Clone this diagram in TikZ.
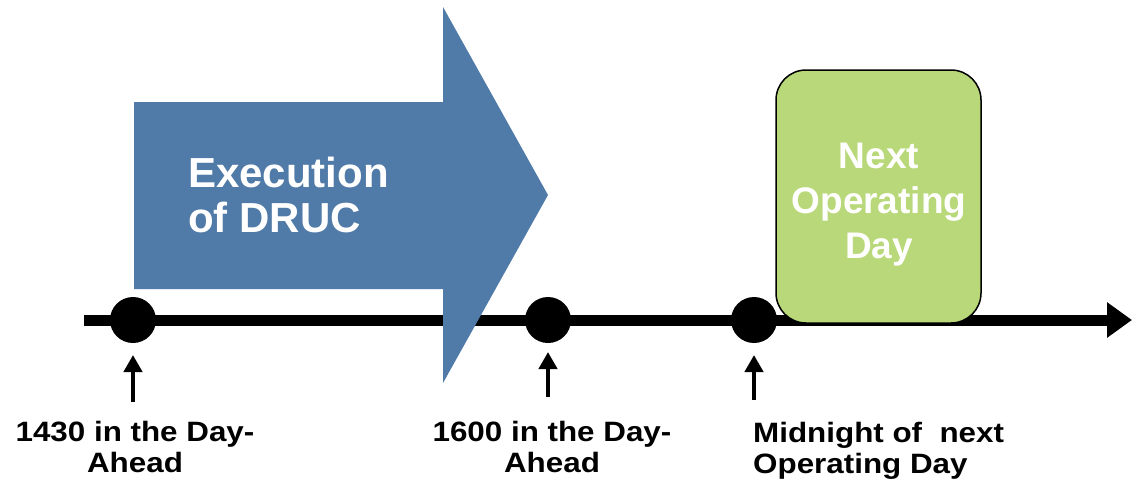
\documentclass[tikz,border=0pt]{standalone}
\usepackage{fontspec}
\setmainfont{Liberation Sans}
\newfontfamily\widesans[FakeStretch=1.12]{Liberation Sans}
\usetikzlibrary{arrows.meta}
\definecolor{drucblue}{RGB}{80,122,167}
\definecolor{daygreen}{RGB}{185,216,122}
\tikzset{
  timeline/.style={line width=11pt, -{Triangle[length=25pt,width=34pt]}},
  event/.style={circle, fill=black, minimum size=46pt, inner sep=0pt},
  pointer/.style={line width=4.5pt, -{Triangle[length=17pt,width=18pt]}},
  bigwhite/.style={text=white, inner sep=0pt, anchor=base west, align=left,
    font=\bfseries\fontsize{42}{45}\selectfont},
  boxwhite/.style={text=white, inner sep=0pt, anchor=base, align=center,
    font=\bfseries\fontsize{37}{45}\selectfont},
  caption/.style={inner sep=0pt, anchor=base,
    font=\widesans\bfseries\fontsize{28}{31}\selectfont},
  dayblock/.style={draw=black, line width=1.5pt, fill=daygreen,
    rounded corners=30pt}
}
\begin{document}
\begin{tikzpicture}[x=1pt, y=-1pt]
  \useasboundingbox (0,0) rectangle (1132,485);

  % time axis
  \coordinate (axisstart) at (84,320);
  \coordinate (axisend) at (1132,320);
  \draw[timeline] (axisstart) -- (axisend);

  % events on the axis
  \node[event] (e1) at (133,320) {};
  \node[event] (e2) at (548,320) {};
  \node[event] (e3) at (754,320) {};

  % DRUC execution window (text anchored at the baseline of its last line)
  \fill[drucblue] (134,102) -- (443,102) -- (443,7) -- (548,195)
    -- (443,383) -- (443,289) -- (134,289) -- cycle;
  \node[bigwhite] (druc) at (188,232) {Execution\\of DRUC};

  % next operating day
  \draw[dayblock] (776,70) rectangle (981,323);
  \node[boxwhite] (nod) at (879,258) {Next\\Operating\\Day};

  % pointers to the events
  \coordinate (p1a) at (133,402);
  \coordinate (p1b) at (133,355);
  \coordinate (p2a) at (548,397);
  \coordinate (p2b) at (548,352);
  \coordinate (p3a) at (754,400);
  \coordinate (p3b) at (754,355);
  \draw[pointer] (p1a) -- (p1b);
  \draw[pointer] (p2a) -- (p2b);
  \draw[pointer] (p3a) -- (p3b);

  % event captions
  \node[caption, align=center] (c1) at (135,472) {1430 in the Day-\\Ahead};
  \node[caption, align=center] (c2) at (552,472) {1600 in the Day-\\Ahead};
  \node[caption, align=left, anchor=base west] (c3) at (753,473) {Midnight of~ next\\Operating Day};
\end{tikzpicture}
\end{document}
